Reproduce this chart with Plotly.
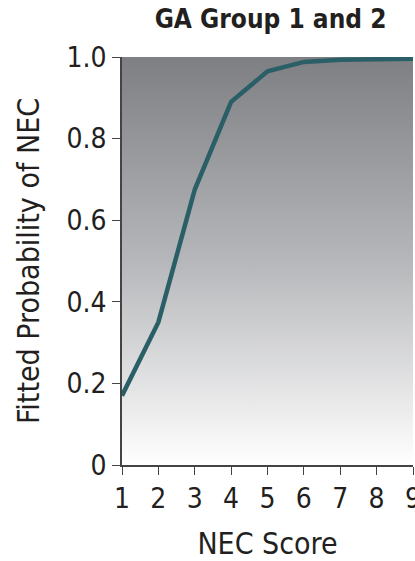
import plotly.graph_objects as go

# NEC score vs fitted probability of NEC
nec_score = [1, 2, 3, 4, 5, 6, 7, 8, 9]
fitted_prob = [0.17, 0.35, 0.675, 0.89, 0.965, 0.988, 0.993, 0.995, 0.996]

title_text = "GA Group 1 and 2"
x_title = "NEC Score"
y_title = "Fitted Probability of NEC"
y_ticks = [0, 0.2, 0.4, 0.6, 0.8, 1.0]
y_tick_text = ["0", "0.2", "0.4", "0.6", "0.8", "1.0"]

FONT = "DejaVu Sans Condensed, Liberation Sans Narrow, sans-serif"
TEXT = "#231f20"

fig = go.Figure()

# gradient backdrop filling the plotting area (white at 0, grey at 1)
fig.add_trace(go.Scatter(
    x=[nec_score[0], nec_score[-1], nec_score[-1], nec_score[0], nec_score[0]],
    y=[0, 0, 1, 1, 0],
    mode="none",
    fill="toself",
    fillgradient=dict(
        type="vertical",
        start=0, stop=1,
        colorscale=[[0, "#ffffff"], [0.5, "#b6b7ba"], [1, "#7e7f83"]],
    ),
    hoverinfo="skip",
    showlegend=False,
))

fig.add_trace(go.Scatter(
    x=nec_score, y=fitted_prob,
    mode="lines",
    line=dict(color="#2b5f68", width=4.5),
    showlegend=False,
))

fig.update_layout(
    width=415, height=561,
    margin=dict(l=122, r=2, t=57, b=96),
    paper_bgcolor="white",
    plot_bgcolor="white",
    font=dict(family=FONT, color=TEXT),
    title=dict(
        text=title_text,
        font=dict(family=FONT, size=26, color=TEXT, weight="bold"),
        x=0.652, xanchor="center",
        y=0.982, yanchor="top",
    ),
    xaxis=dict(
        range=[1, 9],
        tickvals=nec_score,
        ticks="outside", ticklen=8, tickwidth=1.3, tickcolor="#444",
        showline=True, linecolor="#444", linewidth=1.5,
        showgrid=False, zeroline=False,
        ticklabeloverflow="allow",
        automargin=False,
        tickfont=dict(size=28, family=FONT, color=TEXT),
        title=dict(text=x_title, font=dict(size=30, family=FONT, color=TEXT), standoff=22),
        fixedrange=True,
    ),
    yaxis=dict(
        range=[0, 1],
        tickvals=y_ticks, ticktext=y_tick_text,
        ticks="outside", ticklen=8, tickwidth=1.3, tickcolor="#444",
        showline=True, linecolor="#444", linewidth=1.5,
        showgrid=False, zeroline=False,
        automargin=False,
        tickfont=dict(size=28, family=FONT, color=TEXT),
        title=dict(text=y_title, font=dict(size=30, family=FONT, color=TEXT), standoff=18),
        fixedrange=True,
    ),
)

fig.write_html("out.html")
